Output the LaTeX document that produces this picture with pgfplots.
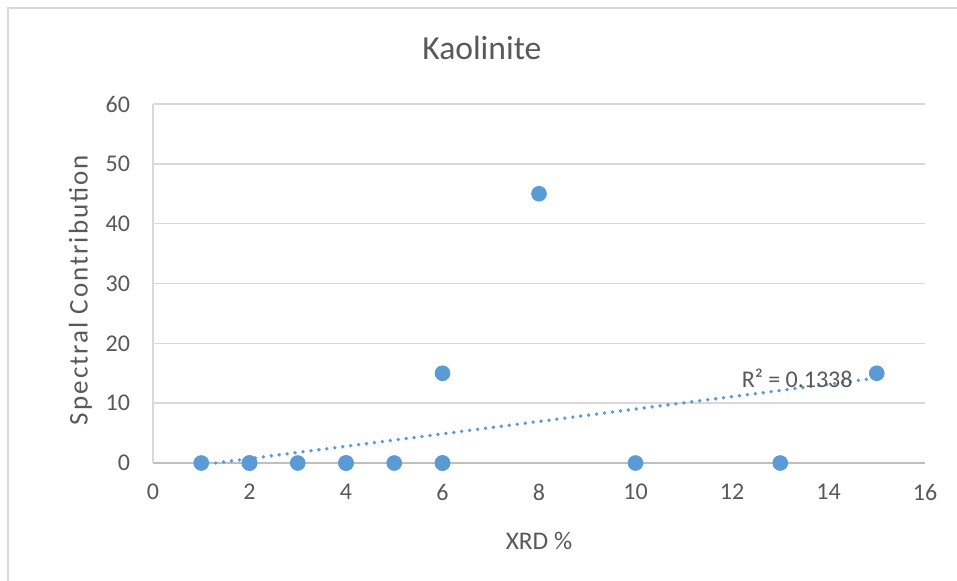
\documentclass[border=0pt]{standalone}
\usepackage{pgfplots}
\pgfplotsset{compat=1.18}
\usepackage{fontspec}
\setmainfont{Carlito}
\definecolor{txt}{HTML}{595959}
\definecolor{grd}{HTML}{D9D9D9}
\definecolor{axl}{HTML}{BFBFBF}
\definecolor{blu}{HTML}{5B9BD5}
\begin{document}
\begin{tikzpicture}
\useasboundingbox (0,0) rectangle (478.5pt,290pt);
\fill[white] (0,0) rectangle (478.5pt,290pt);
\draw[grd, line width=0.8pt] (4pt,-5pt) rectangle (490pt,286pt);
\begin{axis}[
  at={(76.5pt,58.5pt)}, anchor=south west,
  scale only axis, width=386pt, height=179.5pt,
  xmin=0, xmax=16, ymin=0, ymax=60,
  xtick={0,2,...,16}, ytick={0,10,...,60},
  axis x line*=bottom, axis y line*=left,
  axis line style={axl, line width=0.8pt},
  x axis line style={-}, y axis line style={-, grd},
  major tick length=0pt,
  ymajorgrids, grid style={grd, line width=0.8pt},
  clip=false,
  tick label style={font=\fontsize{12}{14}\selectfont, text=txt},
  /pgf/number format/assume math mode=true,
  yticklabel style={xshift=-8pt},
  xticklabel style={yshift=-7pt},
  every axis title shift=0pt,
  title={Kaolinite},
  title style={at={(axis description cs:0.426,1.1253)}, anchor=base, font=\fontsize{16.8}{20}\selectfont, text=txt},
  xlabel={XRD \%},
  ylabel={\addfontfeature{LetterSpace=7.5}Spectral Contribution},
  xlabel style={at={(axis description cs:0.5,-0.217)}, anchor=center, font=\fontsize{12.7}{15}\selectfont, text=txt},
  ylabel style={at={(axis description cs:-0.0939,0.482)}, rotate=0, anchor=center, font=\fontsize{13.5}{15}\selectfont, text=txt},
]
\addplot[blu, line width=1.9pt, line cap=round, dash pattern=on 0pt off 4pt] coordinates {(1.3,0) (15,14.2)};
\addplot[only marks, mark=*, mark size=3.7pt, mark options={fill=blu, draw=blu}] coordinates {
(1,0) (2,0) (2,0) (3,0) (4,0) (4,0) (5,0) (6,0) (6,0) (6,15) (8,45) (10,0) (13,0) (15,15)};
\node[text=txt, font=\fontsize{12}{14}\selectfont, anchor=base] at (axis cs:13.35,12.7) {R² = 0.1338};
\end{axis}
\end{tikzpicture}
\end{document}
